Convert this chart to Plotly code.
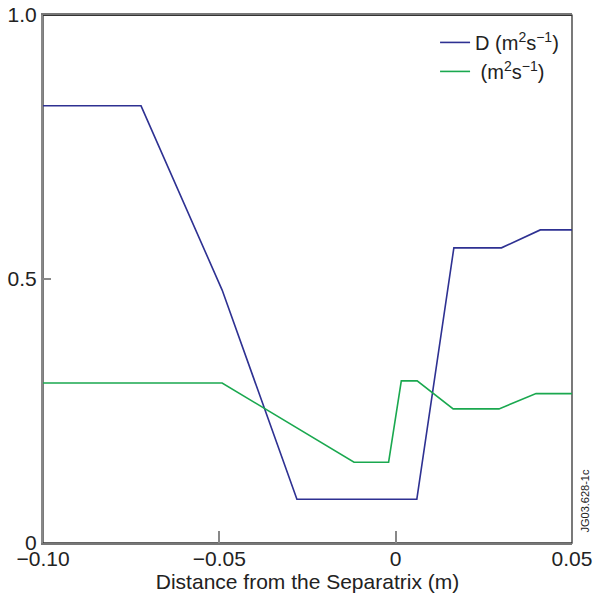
import plotly.graph_objects as go

d_x = [-0.10, -0.0722, -0.0492, -0.028, 0.006, 0.0165, 0.030, 0.041, 0.05]
d_y = [0.828, 0.828, 0.479, 0.083, 0.083, 0.559, 0.559, 0.593, 0.593]

chi_x = [-0.10, -0.0492, -0.0118, -0.002, 0.0016, 0.0061, 0.0163, 0.0293, 0.0398, 0.05]
chi_y = [0.303, 0.303, 0.153, 0.153, 0.307, 0.307, 0.254, 0.254, 0.283, 0.283]

x_ticks = [-0.10, -0.05, 0, 0.05]
x_labels = ["\u22120.10", "\u22120.05", "0", "0.05"]
y_ticks = [0, 0.5, 1.0]
y_labels = ["0", "0.5", "1.0"]

FONT = "Liberation Sans, Arial, sans-serif"

fig = go.Figure()
fig.add_trace(go.Scatter(x=d_x, y=d_y, mode="lines", name="D (m<sup>2</sup>s<sup>\u22121</sup>)",
                         line=dict(color="#2e3192", width=1.6)))
fig.add_trace(go.Scatter(x=chi_x, y=chi_y, mode="lines", name=" (m<sup>2</sup>s<sup>\u22121</sup>)",
                         line=dict(color="#1aa84f", width=1.6)))

fig.update_layout(
    width=594, height=601,
    margin=dict(l=43, r=22, t=15, b=58),
    paper_bgcolor="white", plot_bgcolor="white",
    font=dict(family=FONT, size=21, color="#222"),
    showlegend=True,
    legend=dict(x=0.985, y=0.985, xanchor="right", yanchor="top",
                bgcolor="rgba(0,0,0,0)", font=dict(size=20), tracegroupgap=0),
    xaxis=dict(range=[-0.10, 0.05], tickvals=x_ticks, ticktext=x_labels, automargin=False,
               showgrid=False, zeroline=False, showline=True, linecolor="#777", linewidth=2,
               mirror=True,
               ticks="inside", ticklen=12, tickcolor="#888", tickwidth=1.5,
               tickfont=dict(size=21), ticklabelstandoff=-4,
               title=dict(text="Distance from the Separatrix (m)", font=dict(size=21), standoff=0)),
    yaxis=dict(range=[0, 1.0], tickvals=y_ticks, ticktext=y_labels, automargin=False,
               showgrid=False, zeroline=False, showline=True, linecolor="#888", linewidth=2,
               ticks="inside", ticklen=8, tickcolor="#888", tickwidth=1.5,
               tickfont=dict(size=21)),
)

# thin dark frame (top/right); left/bottom are covered by the grey axis lines
fig.add_shape(type="rect", xref="paper", yref="paper", x0=0, x1=1, y0=0, y1=0.9995,
              line=dict(color="#333", width=1.3), fillcolor="rgba(0,0,0,0)", layer="below")

fig.add_annotation(text="JG03.628-1c", xref="paper", yref="paper", x=1.0, y=0.0,
                   xanchor="center", yanchor="bottom", xshift=12, yshift=8, textangle=-90,
                   showarrow=False, font=dict(size=11, color="#222"))

fig.write_html("out.html", config={"displayModeBar": False},
               post_script="document.body.style.margin='0';")
